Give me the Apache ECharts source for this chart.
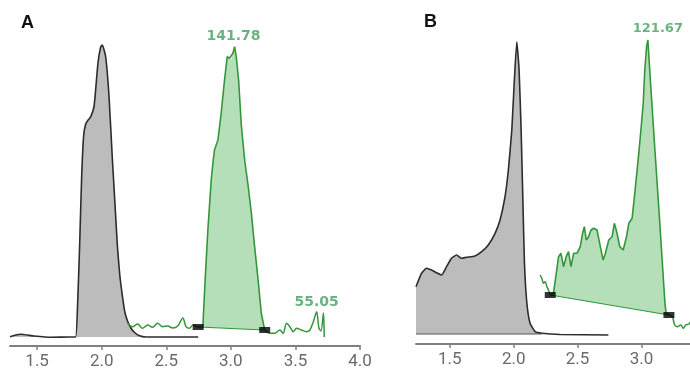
<!DOCTYPE html>
<html>
<head>
<meta charset="utf-8">
<script src="https://cdn.jsdelivr.net/npm/echarts@6/dist/echarts.min.js"></script>
<style>
html,body{margin:0;padding:0;background:#fff;}
#chart{width:690px;height:372px;}
</style>
</head>
<body>
<div id="chart"></div>
<script>
// ---------- Panel A ----------
const aTicks = [1.5, 2.0, 2.5, 3.0, 3.5, 4.0];
const aGrayX = [1.29,1.37,1.475,1.61,1.75,1.798,1.813,1.829,1.845,1.860,1.876,1.895,1.914,1.940,1.953,1.971,1.992,2.005,2.031,2.057,2.083,2.101,2.122,2.140,2.161,2.179,2.200,2.226,2.251,2.288,2.342,2.747];
const aGrayY = [9.3,11.7,10,8.7,9,9,40,100,170,210,222,226,229,239,256,283,299,301,289,249,186,146,99.3,71,49.3,34,25,18,14,10.5,9,9];
const aGreenPreX = [2.200,2.239,2.278,2.316,2.355,2.394,2.433,2.472,2.511,2.550,2.589,2.628,2.653,2.679,2.705,2.747];
const aGreenPreY = [22.7,19.3,22,17.7,21,18.7,22.7,19.3,20,18,20,28,19.3,17.7,20.7,19];
const aPeakX = [2.747,2.783,2.801,2.822,2.848,2.861,2.873,2.900,2.925,2.951,2.972,2.990,3.003,3.016,3.029,3.042,3.060,3.081,3.107,3.133,3.159,3.184,3.211,3.236,3.262];
const aPeakY = [19,19.3,66,116,166,182.7,196,206,232.7,266,289.3,287.7,286,292.7,299.3,289.3,266,221,186,161,132.7,99.3,66,32.7,16];
const aGreenPostX = [3.262,3.301,3.340,3.379,3.405,3.431,3.457,3.483,3.509,3.547,3.586,3.612,3.638,3.664,3.682,3.698,3.717,3.723];
const aGreenPostY = [16,12.7,12.7,16,12.7,22.7,19.3,14.3,17.7,16,14.3,16,24,34.3,18,15,33,9];
const aMarkX = [2.747, 3.262];
const aMarkY = [19, 16];
const aLabelText = ['141.78', '55.05'];
const aLabelX = [3.029, 3.664];
const aLabelY = [299.3, 34.3];

// ---------- Panel B ----------
const bTicks = [1.5, 2.0, 2.5, 3.0];
const bGrayX = [1.235,1.278,1.317,1.356,1.396,1.435,1.474,1.513,1.553,1.592,1.631,1.696,1.749,1.801,1.854,1.893,1.932,1.958,1.985,2.005,2.024,2.042,2.058,2.071,2.084,2.103,2.128,2.168,2.220,2.364,2.741];
const bGrayY = [57.3,70.7,75.7,74,71.3,69,77.3,85.7,89,85.7,86.7,88,92.3,99,110.7,124,147.3,174,214,264,302.3,274,214,147.3,80.7,40.7,20.7,12.3,10.7,9.5,9];
const bGrayBaseX = [1.235, 2.22];
const bGrayBaseY = [10, 10];
const bGreenPreX = [2.207,2.220,2.233,2.246,2.260,2.272,2.286];
const bGreenPreY = [69,65.7,60.7,62.3,57.3,54,49];
const bPeakX = [2.286,2.311,2.333,2.351,2.370,2.390,2.411,2.429,2.448,2.469,2.495,2.521,2.539,2.553,2.568,2.586,2.605,2.626,2.652,2.678,2.700,2.718,2.744,2.770,2.788,2.809,2.830,2.857,2.883,2.901,2.927,2.953,2.979,2.998,3.014,3.026,3.040,3.050,3.073,3.107,3.142,3.167,3.184,3.193,3.215];
const bPeakY = [49,50.7,70.7,87.3,90.7,77.3,87.3,92.3,77.3,90.7,90.7,97.3,110.7,117.3,104,107.3,114,115.7,114,97.3,84,90.7,104,107.3,120.7,110.7,97.3,94,107.3,120.7,125.7,157.3,190.7,217.3,240.7,274,297.3,304,257.3,190.7,124,74,40.7,30.7,29];
const bGreenPostX = [3.215,3.242,3.260,3.281,3.307,3.328,3.346,3.372,3.38];
const bGreenPostY = [29,27.3,19,17.3,19,15.7,19,20,22];
const bMarkX = [2.286, 3.215];
const bMarkY = [49, 29];
const bLabelText = ['121.67'];
const bLabelX = [3.050];
const bLabelY = [304];

// ---------- helpers ----------
const zip = (xs, ys) => xs.map((x, i) => [x, ys[i]]);

const GREEN = '#34963c';
const GREEN_FILL = 'rgba(120,196,125,0.55)';
const GRAY_FILL = '#bcbcbc';
const GRAY_LINE = '#2c2c2c';
const LABEL_GREEN = '#44a060';

function xAxisFor(idx, min, max, ticks) {
  return {
    type: 'value', gridIndex: idx, min: min, max: max,
    axisLine: {show: true, lineStyle: {color: '#808080', width: 2}},
    axisTick: {show: true, customValues: ticks, length: 4, lineStyle: {color: '#808080', width: 1.5}},
    axisLabel: {show: true, customValues: ticks, margin: 7, fontSize: 17, color: '#6a6a6a', fontFamily: 'Roboto',
      formatter: v => Number(v).toFixed(1)},
    splitLine: {show: false}
  };
}
function yAxisFor(idx) {
  return {type: 'value', gridIndex: idx, min: 0, max: 320, show: false, splitLine: {show: false}};
}

function panelSeries(p, idx) {
  const s = [];
  // gray trace
  s.push({type: 'line', xAxisIndex: idx, yAxisIndex: idx, data: zip(p.grayX, p.grayY), smooth: 0.15,
    symbol: 'none', lineStyle: {color: GRAY_LINE, width: 1.6},
    areaStyle: {color: GRAY_FILL, opacity: 1, origin: p.grayOrigin}, z: 2});
  if (p.grayBaseX) {
    s.push({type: 'line', xAxisIndex: idx, yAxisIndex: idx, data: zip(p.grayBaseX, p.grayBaseY),
      symbol: 'none', lineStyle: {color: '#555', width: 1.2}, z: 3});
  }
  // green filled region between integration baseline and the peak curve
  const poly = zip(p.peakX, p.peakY).concat(zip(p.markX, p.markY).reverse());
  s.push({type: 'custom', coordinateSystem: 'cartesian2d', xAxisIndex: idx, yAxisIndex: idx,
    data: [[p.peakX[0], p.peakY[0]]], clip: false, z: 3, silent: true,
    renderItem: function (params, api) {
      return {type: 'polygon', shape: {points: poly.map(pt => api.coord(pt))},
        style: {fill: GREEN_FILL, stroke: null}};
    }});
  // green trace pieces
  s.push({type: 'line', xAxisIndex: idx, yAxisIndex: idx, data: zip(p.preX, p.preY), smooth: 0.3,
    symbol: 'none', lineStyle: {color: GREEN, width: 1.5}, z: 4});
  s.push({type: 'line', xAxisIndex: idx, yAxisIndex: idx, data: zip(p.peakX, p.peakY),
    symbol: 'none', lineStyle: {color: GREEN, width: 1.6}, z: 4});
  s.push({type: 'line', xAxisIndex: idx, yAxisIndex: idx, data: zip(p.postX, p.postY), smooth: 0.3,
    symbol: 'none', lineStyle: {color: GREEN, width: 1.5}, z: 4});
  // integration baseline
  s.push({type: 'line', xAxisIndex: idx, yAxisIndex: idx, data: zip(p.markX, p.markY),
    symbol: 'none', lineStyle: {color: GREEN, width: 1.2}, z: 4});
  // markers
  s.push({type: 'scatter', xAxisIndex: idx, yAxisIndex: idx, data: zip(p.markX, p.markY),
    symbol: 'rect', symbolSize: [11, 6], itemStyle: {color: '#000'}, z: 6});
  // labels
  s.push({type: 'scatter', xAxisIndex: idx, yAxisIndex: idx,
    data: p.labelX.map((x, i) => ({value: [x, p.labelY[i]], name: p.labelText[i],
      label: {offset: p.labelOffset[i], fontSize: p.labelSize[i]}})),
    symbolSize: 0, z: 7,
    label: {show: true, position: 'top', distance: 2, formatter: '{b}', color: LABEL_GREEN,
      fontFamily: 'DejaVu Sans', fontWeight: 'bold'}});
  return s;
}

const panelA = {grayX: aGrayX, grayY: aGrayY, grayOrigin: 9, preX: aGreenPreX, preY: aGreenPreY,
  peakX: aPeakX, peakY: aPeakY, postX: aGreenPostX, postY: aGreenPostY, markX: aMarkX, markY: aMarkY,
  labelX: aLabelX, labelY: aLabelY, labelText: aLabelText, labelOffset: [[-1, -1], [0, 0]], labelSize: [14, 14]};
const panelB = {grayX: bGrayX, grayY: bGrayY, grayOrigin: 10, grayBaseX: bGrayBaseX, grayBaseY: bGrayBaseY,
  preX: bGreenPreX, preY: bGreenPreY, peakX: bPeakX, peakY: bPeakY, postX: bGreenPostX, postY: bGreenPostY,
  markX: bMarkX, markY: bMarkY, labelX: bLabelX, labelY: bLabelY, labelText: bLabelText,
  labelOffset: [[10, -3]], labelSize: [13]};

const chart = echarts.init(document.getElementById('chart'), null, {renderer: 'canvas'});
chart.setOption({
  animation: false,
  backgroundColor: '#fff',
  title: [
    {text: 'A', left: 21, top: 14, padding: 0, textStyle: {fontSize: 18, fontWeight: 'bold', color: '#111', fontFamily: 'Liberation Sans'}},
    {text: 'B', left: 424, top: 13, padding: 0, textStyle: {fontSize: 18, fontWeight: 'bold', color: '#111', fontFamily: 'Liberation Sans'}}
  ],
  grid: [
    {left: 10, top: 26, width: 350, height: 320},
    {left: 416, top: 24, width: 274, height: 320}
  ],
  xAxis: [xAxisFor(0, 1.29, 4.0, aTicks), xAxisFor(1, 1.235, 3.38, bTicks)],
  yAxis: [yAxisFor(0), yAxisFor(1)],
  series: panelSeries(panelA, 0).concat(panelSeries(panelB, 1))
});
</script>
</body>
</html>
